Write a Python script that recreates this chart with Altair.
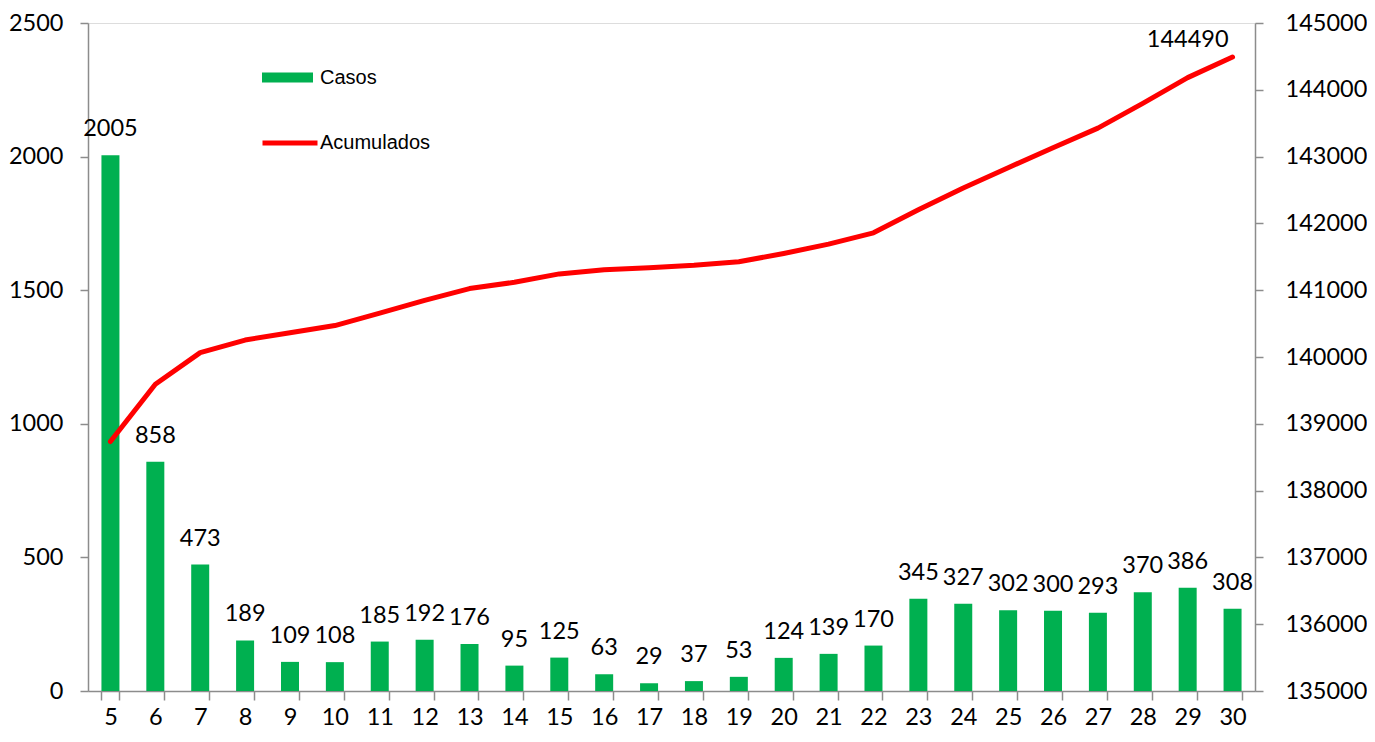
import altair as alt
import pandas as pd

dias = ["5", "6", "7", "8", "9", "10", "11", "12", "13", "14", "15", "16", "17",
        "18", "19", "20", "21", "22", "23", "24", "25", "26", "27", "28", "29", "30"]
casos = [2005, 858, 473, 189, 109, 108, 185, 192, 176, 95, 125, 63, 29,
         37, 53, 124, 139, 170, 345, 327, 302, 300, 293, 370, 386, 308]
acumulados = [138734, 139592, 140065, 140254, 140363, 140471, 140656, 140848, 141024,
              141119, 141244, 141307, 141336, 141373, 141426, 141550, 141689, 141859,
              142204, 142531, 142833, 143133, 143426, 143796, 144182, 144490]

df = pd.DataFrame({
    "dia": dias,
    "casos": casos,
    "acumulados": acumulados,
    "sb": ["Casos"] * len(dias),
    "sl": ["Acumulados"] * len(dias),
    "last": [i == len(dias) - 1 for i in range(len(dias))],
})

TICK_FONT = "Lato"
FS = 23.5
GRAY = "#8C8C8C"

x_enc = alt.X(
    "dia:N", sort=None,
    scale=alt.Scale(paddingInner=0.6, paddingOuter=0.3),
    axis=alt.Axis(title=None, labelAngle=0, tickBand="extent", tickSize=9,
                  labelPadding=5, labelFont=TICK_FONT, labelFontSize=FS,
                  labelColor="black", domainColor=GRAY, tickColor=GRAY,
                  domainWidth=1.5, tickWidth=1.5, grid=False),
)

base = alt.Chart(df).encode(x=x_enc)

y_left = alt.Y(
    "casos:Q",
    scale=alt.Scale(domain=[0, 2500], nice=False),
    axis=alt.Axis(title=None, values=[0, 500, 1000, 1500, 2000, 2500], format="d",
                  tickSize=8, labelPadding=17, labelFont=TICK_FONT, labelFontSize=FS,
                  labelColor="black", domainColor=GRAY, tickColor=GRAY,
                  domainWidth=1.5, tickWidth=1.5, grid=False),
)

bars = base.mark_bar(size=18).encode(
    y=y_left,
    fill=alt.Fill("sb:N", scale=alt.Scale(domain=["Casos"], range=["#00B050"]),
                  legend=alt.Legend(orient="none", legendX=174, legendY=29, title=None,
                                    symbolType="M-1,-0.2H1V0.2H-1Z", symbolSize=2601,
                                    symbolStrokeWidth=0, labelFont="Liberation Sans",
                                    labelFontSize=20, labelOffset=7, padding=0,
                                    labelColor="black")),
)

bar_labels = base.mark_text(dy=-19, baseline="alphabetic", font=TICK_FONT,
                            fontSize=FS, color="black").encode(
    y=alt.Y("casos:Q"), text=alt.Text("casos:Q", format="d"))

y_right = alt.Y(
    "acumulados:Q",
    scale=alt.Scale(domain=[135000, 145000], nice=False, zero=False),
    axis=alt.Axis(title=None, orient="right",
                  values=list(range(135000, 145001, 1000)), format="d",
                  tickSize=8, labelPadding=22, labelFont=TICK_FONT, labelFontSize=FS,
                  labelColor="black", domainColor=GRAY, tickColor=GRAY,
                  domainWidth=1.5, tickWidth=1.5, grid=False),
)

line = base.mark_line(strokeWidth=5, strokeCap="round", strokeJoin="round").encode(
    y=y_right,
    stroke=alt.Stroke("sl:N", scale=alt.Scale(domain=["Acumulados"], range=["#FF0000"]),
                      legend=alt.Legend(orient="none", legendX=172, legendY=90, title=None,
                                        symbolType="stroke", symbolSize=3025,
                                        symbolStrokeWidth=5, labelFont="Liberation Sans",
                                        labelFontSize=20, labelOffset=0, padding=0,
                                        labelColor="black")),
)

line_label = base.transform_filter("datum.last").mark_text(
    align="right", baseline="alphabetic", dx=-4, dy=-10, font=TICK_FONT,
    fontSize=FS, color="black").encode(
    y=alt.Y("acumulados:Q"), text=alt.Text("acumulados:Q", format="d"))

chart = alt.layer(
    alt.layer(bars, bar_labels),
    alt.layer(line, line_label),
).resolve_scale(y="independent", fill="independent", stroke="independent").properties(
    width=1167, height=668, padding={"left": 0, "top": 3, "right": 0, "bottom": 0}
).configure_view(stroke=None).configure(background="white")

chart.save("out.html", embed_options={"renderer": "svg", "actions": False})
